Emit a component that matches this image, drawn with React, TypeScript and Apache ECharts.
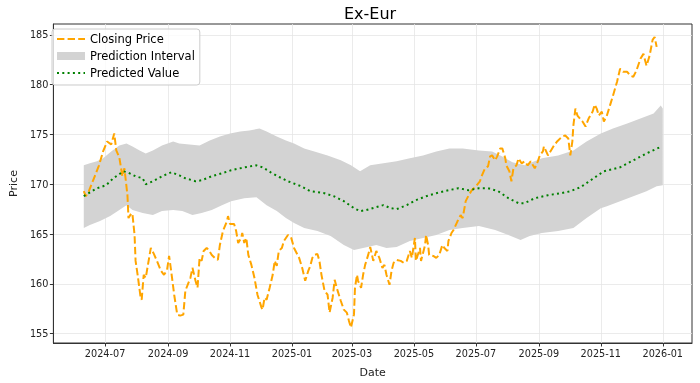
import React, { useEffect, useRef } from "react";
import * as echarts from "echarts";

const closeDates = [
  "2024-06-10","2024-06-12","2024-06-15","2024-06-20","2024-06-25","2024-06-29","2024-07-03","2024-07-07","2024-07-10","2024-07-12",
  "2024-07-15","2024-07-18","2024-07-20","2024-07-23","2024-07-24","2024-07-27","2024-07-28","2024-07-30","2024-07-31","2024-08-02",
  "2024-08-05","2024-08-06","2024-08-08","2024-08-10","2024-08-15","2024-08-18","2024-08-21","2024-08-25","2024-08-28","2024-08-31",
  "2024-09-02","2024-09-04","2024-09-07","2024-09-10","2024-09-13","2024-09-16","2024-09-18","2024-09-23","2024-09-25","2024-09-28",
  "2024-09-30","2024-10-02","2024-10-04","2024-10-06","2024-10-09","2024-10-11","2024-10-14","2024-10-17","2024-10-20","2024-10-22",
  "2024-10-25","2024-10-29","2024-10-30","2024-11-01","2024-11-05","2024-11-07","2024-11-09","2024-11-12","2024-11-13","2024-11-15",
  "2024-11-17","2024-11-19","2024-11-22","2024-11-25","2024-11-28","2024-12-02","2024-12-03","2024-12-05","2024-12-07","2024-12-10",
  "2024-12-13","2024-12-15","2024-12-17","2024-12-19","2024-12-22","2024-12-24","2024-12-28","2024-12-31","2025-01-03","2025-01-08",
  "2025-01-11","2025-01-14","2025-01-17","2025-01-19","2025-01-21","2025-01-23","2025-01-26","2025-01-28","2025-01-30","2025-02-02",
  "2025-02-05","2025-02-07","2025-02-10","2025-02-12","2025-02-14","2025-02-18","2025-02-21","2025-02-24","2025-02-26","2025-02-28",
  "2025-03-03","2025-03-04","2025-03-06","2025-03-07","2025-03-10","2025-03-12","2025-03-14","2025-03-17","2025-03-19","2025-03-22",
  "2025-03-25","2025-03-28","2025-03-31","2025-04-02","2025-04-04","2025-04-07","2025-04-09","2025-04-11","2025-04-14","2025-04-18",
  "2025-04-21","2025-04-24","2025-04-27","2025-04-29","2025-05-02","2025-05-03","2025-05-07","2025-05-08","2025-05-12","2025-05-13",
  "2025-05-15","2025-05-16","2025-05-20","2025-05-23","2025-05-26","2025-05-29","2025-05-31","2025-06-03","2025-06-04","2025-06-07",
  "2025-06-09","2025-06-13","2025-06-16","2025-06-18","2025-06-21","2025-06-24","2025-06-27","2025-07-01","2025-07-05","2025-07-07",
  "2025-07-10","2025-07-13","2025-07-15","2025-07-17","2025-07-20","2025-07-22","2025-07-25","2025-07-27","2025-07-30","2025-07-31",
  "2025-08-03","2025-08-05","2025-08-07","2025-08-10","2025-08-12","2025-08-15","2025-08-18","2025-08-21","2025-08-24","2025-08-28",
  "2025-08-31","2025-09-02","2025-09-05","2025-09-06","2025-09-10","2025-09-16","2025-09-19","2025-09-24","2025-09-27","2025-09-30",
  "2025-10-02","2025-10-04","2025-10-05","2025-10-07","2025-10-09","2025-10-14","2025-10-17","2025-10-20","2025-10-24","2025-10-26",
  "2025-10-28","2025-10-30","2025-11-02","2025-11-04","2025-11-07","2025-11-10","2025-11-13","2025-11-17","2025-11-20","2025-11-23",
  "2025-11-27","2025-11-30","2025-12-03","2025-12-06","2025-12-10","2025-12-13","2025-12-16","2025-12-19","2025-12-22","2025-12-24",
  "2025-12-26"
];
const closeValues = [
  169.3,168.8,169.3,170.6,171.9,173.3,174.3,174.0,175.1,173.4,
  172.7,170.8,171.6,168.9,166.6,167.1,166.9,164.9,162.3,160.9,
  158.6,158.4,160.9,160.6,163.6,163.0,162.3,161.3,160.9,161.4,
  162.8,161.3,158.9,156.9,156.8,156.9,159.3,160.6,161.6,160.3,
  159.6,162.6,162.3,163.3,163.6,163.4,162.9,162.6,162.4,163.9,
  165.3,166.3,166.8,166.0,166.0,165.3,164.1,164.6,165.1,164.1,
  164.6,162.9,161.9,160.6,158.9,157.6,157.4,158.6,158.4,159.6,
  160.9,162.3,161.8,163.3,163.6,164.3,164.9,164.7,163.6,162.6,
  161.6,160.3,161.3,161.8,162.6,162.9,163.0,162.3,160.9,159.3,
  158.9,157.1,158.6,160.4,159.6,158.3,157.4,157.1,156.3,155.6,
  156.9,159.6,160.9,160.3,159.6,160.9,161.9,162.9,163.7,162.3,
  163.3,162.6,161.6,161.9,160.9,159.9,161.3,162.1,162.4,162.3,
  162.1,162.3,163.3,162.6,164.6,162.3,163.6,162.3,163.9,164.9,
  163.9,162.9,162.8,162.6,162.9,163.9,163.6,163.3,164.3,165.1,
  165.4,166.3,166.9,166.6,168.3,168.9,169.4,169.8,170.3,170.9,
  171.6,171.8,172.8,172.9,172.4,172.8,173.6,173.6,172.6,171.9,
  171.3,170.3,171.6,171.9,172.6,172.1,172.3,171.9,172.3,171.6,
  172.3,172.9,173.3,173.8,172.9,173.9,174.3,174.8,174.9,174.6,
  172.9,174.3,175.9,177.6,176.9,176.3,175.8,176.6,177.3,178.0,
  177.6,176.9,177.3,176.3,176.9,177.9,178.9,180.3,181.6,181.3,
  181.3,180.9,180.8,181.4,182.6,183.1,181.9,182.9,184.5,184.8,
  183.8
];

const predDates = [
  "2024-06-10","2024-06-23","2024-07-02","2024-07-09","2024-07-19","2024-07-23","2024-07-31","2024-08-07","2024-08-10","2024-08-17",
  "2024-08-26","2024-09-04","2024-09-12","2024-09-18","2024-09-28","2024-10-04","2024-10-14","2024-10-24","2024-11-02","2024-11-15",
  "2024-11-27","2024-12-03","2024-12-11","2024-12-18","2024-12-28","2025-01-10","2025-01-19","2025-02-02","2025-02-11","2025-02-21",
  "2025-03-03","2025-03-09","2025-03-15","2025-03-25","2025-04-01","2025-04-08","2025-04-14","2025-04-24","2025-05-03","2025-05-13",
  "2025-05-23","2025-06-04","2025-06-14","2025-06-24","2025-07-04","2025-07-13","2025-07-23","2025-08-02","2025-08-12","2025-08-18",
  "2025-08-28","2025-09-10","2025-09-23","2025-10-02","2025-10-12","2025-10-22","2025-11-04","2025-11-20","2025-12-03","2025-12-16",
  "2025-12-31"
];
const predValues = [
  168.8,169.6,169.9,170.6,171.3,171.2,170.8,170.6,170.0,170.3,
  170.8,171.2,170.9,170.6,170.3,170.4,170.8,171.1,171.4,171.7,
  171.9,171.7,171.2,170.8,170.3,169.8,169.3,169.1,168.8,168.3,
  167.6,167.3,167.4,167.7,167.9,167.6,167.5,167.9,168.4,168.8,
  169.1,169.4,169.6,169.4,169.6,169.6,169.3,168.6,168.1,168.1,
  168.6,168.9,169.1,169.3,169.7,170.4,171.3,171.7,172.4,173.1,
  173.8
];

const upperDates = [
  "2024-06-10","2024-06-16","2024-06-23","2024-06-29","2024-07-07","2024-07-15","2024-07-22","2024-07-28","2024-08-04","2024-08-10",
  "2024-08-17","2024-08-26","2024-09-06","2024-09-12","2024-09-22","2024-10-02","2024-10-12","2024-10-22","2024-11-01","2024-11-11",
  "2024-11-20","2024-11-30","2024-12-07","2024-12-17","2024-12-26","2025-01-03","2025-01-13","2025-01-23","2025-02-05","2025-02-18",
  "2025-02-28","2025-03-09","2025-03-19","2025-04-01","2025-04-14","2025-04-27","2025-05-10","2025-05-23","2025-06-05","2025-06-18",
  "2025-07-04","2025-07-17","2025-07-27","2025-08-06","2025-08-18","2025-09-04","2025-09-20","2025-10-05","2025-10-18","2025-11-01",
  "2025-11-13","2025-11-27","2025-12-10","2025-12-23","2025-12-30","2026-01-01"
];
const upperValues = [
  171.9,172.1,172.3,172.6,173.3,173.9,174.1,173.8,173.4,173.1,
  173.4,173.9,174.3,174.1,174.0,173.9,174.4,174.8,175.1,175.3,
  175.4,175.6,175.3,174.8,174.4,174.1,173.6,173.3,172.9,172.4,
  171.9,171.3,171.9,172.1,172.3,172.6,172.9,173.3,173.6,173.6,
  173.4,173.3,172.8,172.2,171.9,172.6,172.9,173.4,174.3,175.1,
  175.6,176.1,176.6,177.1,177.9,177.6
];

const lowerDates = [
  "2024-06-10","2024-06-16","2024-06-26","2024-07-06","2024-07-15","2024-07-22","2024-07-28","2024-08-07","2024-08-17","2024-08-26",
  "2024-09-06","2024-09-15","2024-09-25","2024-10-04","2024-10-14","2024-10-24","2024-11-02","2024-11-15","2024-11-27","2024-12-07",
  "2024-12-17","2024-12-26","2025-01-03","2025-01-13","2025-01-26","2025-02-08","2025-02-21","2025-03-03","2025-03-12","2025-03-25",
  "2025-04-04","2025-04-14","2025-04-27","2025-05-10","2025-05-23","2025-06-05","2025-06-18","2025-07-04","2025-07-20","2025-08-02",
  "2025-08-14","2025-08-23","2025-09-04","2025-09-20","2025-10-05","2025-10-18","2025-11-01","2025-11-07","2025-11-20","2025-12-03",
  "2025-12-16","2025-12-26","2026-01-01"
];
const lowerValues = [
  165.6,165.9,166.3,166.8,167.4,167.9,167.4,167.1,166.9,167.3,
  167.4,167.3,166.9,167.1,167.4,167.9,168.3,168.6,168.7,167.9,
  167.3,166.6,166.1,165.6,165.3,164.8,163.9,163.4,163.6,163.9,
  163.6,163.7,164.3,164.6,164.9,165.4,165.6,165.8,165.4,164.9,
  164.4,164.8,165.1,165.3,165.6,166.6,167.6,167.8,168.3,168.8,
  169.3,169.8,169.9
];

const xTickLabels = ["2024-07","2024-09","2024-11","2025-01","2025-03","2025-05","2025-07","2025-09","2025-11","2026-01"];
const yTickValues = [155, 160, 165, 170, 175, 180, 185];

const toTs = (s: string) => Date.parse((s.length === 7 ? s + "-01" : s) + "T00:00:00Z");

export default function App() {
  const ref = useRef<HTMLDivElement>(null);
  useEffect(() => {
    if (!ref.current) return;
    const chart = echarts.init(ref.current, null, { renderer: "svg" });
    const font = "DejaVu Sans";
    const closeSeries = closeDates.map((d, i) => [toTs(d), closeValues[i]]);
    const predSeries = predDates.map((d, i) => [toTs(d), predValues[i]]);
    const upperPts = upperDates.map((d, i) => [toTs(d), upperValues[i]]);
    const lowerPts = lowerDates.map((d, i) => [toTs(d), lowerValues[i]]);
    const bandPts = upperPts.concat(lowerPts.slice().reverse());
    const xTicks = xTickLabels.map(toTs);
    const xMin = Date.parse("2024-05-11T02:00:00Z");
    const xMax = Date.parse("2026-01-29T19:00:00Z");
    const fmt = (v: number) => {
      const i = xTicks.indexOf(v);
      if (i >= 0) return xTickLabels[i];
      const d = new Date(v);
      return d.getUTCFullYear() + "-" + String(d.getUTCMonth() + 1).padStart(2, "0");
    };
    const axisColor = "#333333";
    const gridColor = "#e6e6e6";
    chart.setOption({
      animation: false,
      title: {
        text: "Ex-Eur",
        left: 344,
        top: 5,
        padding: 0,
        textStyle: { fontSize: 16, fontWeight: "normal", color: "#000", fontFamily: font },
      },
      grid: {
        left: 46,
        right: 8,
        top: 24,
        bottom: 38.5,
        show: true,
        borderColor: axisColor,
        borderWidth: 1,
        backgroundColor: "transparent",
      },
      legend: {
        left: 52,
        top: 29,
        orient: "vertical",
        data: [
          { name: "Closing Price", itemStyle: { opacity: 0 } },
          { name: "Prediction Interval", icon: "rect" },
          { name: "Predicted Value", itemStyle: { opacity: 0 } },
        ],
        itemWidth: 28,
        itemHeight: 8,
        itemGap: 3,
        padding: [3, 5, 5, 4],
        backgroundColor: "rgba(255,255,255,0.8)",
        borderColor: "#cccccc",
        borderWidth: 1,
        borderRadius: 3,
        selectedMode: false,
        textStyle: { fontSize: 11.5, color: "#000", fontFamily: font, lineHeight: 14 },
      },
      xAxis: {
        type: "value",
        min: xMin,
        max: xMax,
        axisLine: { show: true, lineStyle: { color: axisColor, width: 1 } },
        axisTick: { show: true, length: 3.5, customValues: xTicks, lineStyle: { color: axisColor } },
        axisLabel: {
          customValues: xTicks,
          formatter: fmt,
          fontSize: 9.7,
          color: "#222",
          fontFamily: font,
          margin: 5,
          hideOverlap: false,
        },
        splitLine: { show: true, lineStyle: { color: gridColor, width: 0.8 } },
        name: "Date",
        nameLocation: "middle",
        nameGap: 24,
        nameTextStyle: { fontSize: 11, color: "#222", fontFamily: font },
      },
      yAxis: {
        type: "value",
        min: 154.05,
        max: 186.1,
        axisLine: { show: true, lineStyle: { color: axisColor, width: 1 } },
        axisTick: { show: true, length: 3.5, customValues: yTickValues, lineStyle: { color: axisColor } },
        axisLabel: { customValues: yTickValues, fontSize: 9.7, color: "#222", fontFamily: font, margin: 5 },
        splitLine: { show: true, lineStyle: { color: gridColor, width: 0.8 } },
        name: "Price",
        nameLocation: "middle",
        nameRotate: 90,
        nameGap: 30,
        nameTextStyle: { fontSize: 11, color: "#222", fontFamily: font },
      },
      series: [
        {
          type: "custom",
          name: "Prediction Interval",
          silent: true,
          z: 1,
          itemStyle: { color: "#d3d3d3" },
          data: [bandPts[0]],
          renderItem: (params: any, api: any) => {
            if (params.dataIndex !== 0) return null;
            const pts = bandPts.map((p) => api.coord(p));
            return { type: "polygon", shape: { points: pts }, style: { fill: "#d3d3d3" } };
          },
        },
        {
          type: "line",
          name: "Closing Price",
          data: closeSeries,
          symbol: "none",
          z: 2,
          itemStyle: { color: "#FFA500" },
          lineStyle: { color: "#FFA500", width: 2, type: [7.4, 3.2] },
        },
        {
          type: "line",
          name: "Predicted Value",
          data: predSeries,
          symbol: "none",
          z: 3,
          itemStyle: { color: "#008000" },
          lineStyle: { color: "#008000", width: 2, type: [2, 3.3] },
        },
      ],
    });
    return () => chart.dispose();
  }, []);
  return <div ref={ref} style={{ position: "fixed", left: 0, top: 0, width: 700, height: 383 }} />;
}
